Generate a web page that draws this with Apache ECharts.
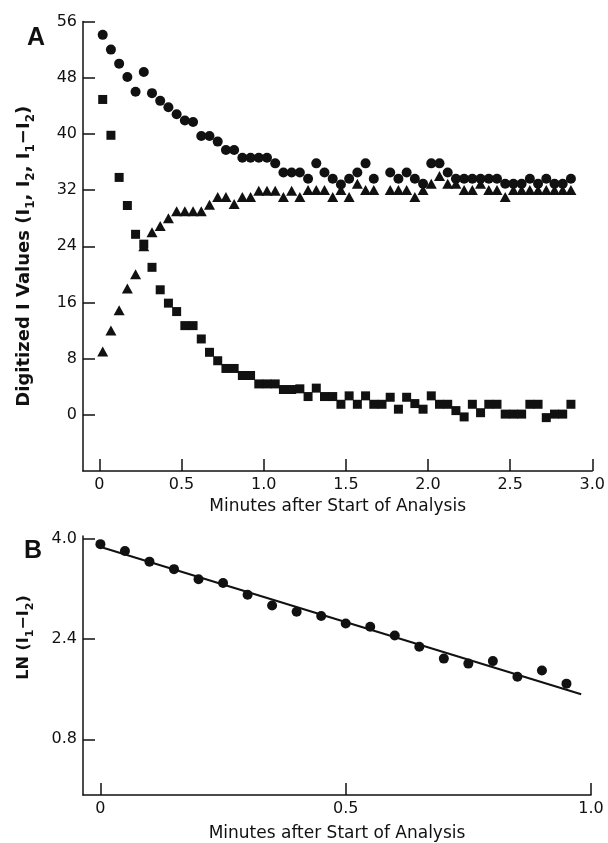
<!DOCTYPE html>
<html><head><meta charset="utf-8">
<script src="https://cdn.jsdelivr.net/npm/echarts@6/dist/echarts.min.js"></script>
<style>html,body{margin:0;padding:0;background:#fff}#c{width:608px;height:843px}</style>
</head><body><div id="c"></div>
<script>
// Panel A: time (minutes) of each digitized reading
const times = [0.02,0.07,0.12,0.17,0.22,0.27,0.32,0.37,0.42,0.47,0.52,0.57,0.62,0.67,0.72,0.77,0.82,0.87,0.92,0.97,
  1.02,1.07,1.12,1.17,1.22,1.27,1.32,1.37,1.42,1.47,1.52,1.57,1.62,1.67,1.72,1.77,1.82,1.87,1.92,1.97,
  2.02,2.07,2.12,2.17,2.22,2.27,2.32,2.37,2.42,2.47,2.52,2.57,2.62,2.67,2.72,2.77,2.82,2.87];
// I1 (circles)
const i1Values = [54.1,52.0,50.0,48.1,46.0,48.8,45.8,44.7,43.8,42.8,41.9,41.7,39.7,39.7,38.9,37.7,37.7,36.6,36.6,36.6,
  36.6,35.8,34.5,34.5,34.5,33.6,35.8,34.5,33.6,32.8,33.6,34.5,35.8,33.6,null,34.5,33.6,34.5,33.6,32.9,
  35.8,35.8,34.5,33.6,33.6,33.6,33.6,33.6,33.6,32.9,32.9,32.9,33.6,32.9,33.6,32.9,32.9,33.6];
// I2 (triangles)
const i2Values = [9.0,12.0,14.9,18.0,20.0,24.0,26.0,26.9,28.0,29.0,29.0,29.0,29.0,29.9,31.0,31.0,30.0,31.0,31.0,31.9,
  31.9,31.9,31.0,31.9,31.0,32.0,32.0,32.0,31.0,32.0,31.0,32.9,32.0,32.0,null,32.0,32.0,32.0,31.0,32.0,
  32.9,34.0,32.9,32.9,32.0,32.0,32.9,32.0,32.0,31.0,32.0,32.0,32.0,32.0,32.0,32.0,32.0,32.0];
// I1 - I2 (squares)
const diffValues = [44.9,39.8,33.8,29.8,25.7,24.3,21.0,17.8,15.9,14.7,12.7,12.7,10.8,8.9,7.7,6.6,6.6,5.6,5.6,4.4,
  4.4,4.4,3.6,3.6,3.7,2.6,3.8,2.6,2.6,1.5,2.7,1.5,2.7,1.5,1.5,2.5,0.8,2.5,1.6,0.8,
  2.7,1.5,1.5,0.6,-0.3,1.5,0.3,1.5,1.5,0.1,0.1,0.1,1.5,1.5,-0.4,0.1,0.1,1.5];
const topXTicks = [0,0.5,1.0,1.5,2.0,2.5,3.0];
const topYTicks = [0,8,16,24,32,40,48,56];

// Panel B
const lnTimes = [0,0.05,0.10,0.15,0.20,0.25,0.30,0.35,0.40,0.45,0.50,0.55,0.60,0.65,0.70,0.75,0.80,0.85,0.90,0.95];
const lnValues = [3.92,3.81,3.64,3.52,3.36,3.30,3.11,2.94,2.84,2.77,2.65,2.60,2.46,2.28,2.09,2.01,2.05,1.80,1.90,1.69];
const fitTimes = [-0.006,0.98];
const fitValues = [3.89,1.52];
const bottomXTicks = [0,0.5,1.0];
const bottomYTicks = [0.8,2.4,4.0];

const FONT = "'DejaVu Sans', 'Liberation Sans', Arial, sans-serif";
const INK = '#111';
function pairs(xs, ys){ const out=[]; xs.forEach((x,i)=>{ if(ys[i]!==null && ys[i]!==undefined) out.push([x,ys[i]]); }); return out; }
const fmt = v => v===0 ? '0' : v.toFixed(1);

const axisLineStyle = {show:true, onZero:false, lineStyle:{color:INK, width:1.5}};
const tickStyle = {show:true, inside:true, length:12, lineStyle:{color:INK, width:1.5}};
const labelStyle = {color:INK, fontFamily:FONT, fontSize:16};
const subRichTop = {
  s:{fontSize:12, fontWeight:'bold', fontFamily:FONT, color:INK, verticalAlign:'bottom', lineHeight:13, padding:[0,0,-4,0]}
};
const subRichB = {
  s:{fontSize:11, fontWeight:'bold', fontFamily:FONT, color:INK, verticalAlign:'bottom', lineHeight:12, padding:[0,0,-4,0]}
};
const mark = {color:INK, opacity:1};

const chart = echarts.init(document.getElementById('c'), null, {renderer:'canvas'});
chart.setOption({
  animation:false,
  backgroundColor:'#fff',
  title:[
    {text:'A', left:27, top:26, padding:0, textStyle:{fontFamily:"'Liberation Sans', Arial, sans-serif", fontSize:25, fontWeight:'bold', color:INK}},
    {text:'B', left:24, top:539, padding:0, textStyle:{fontFamily:"'Liberation Sans', Arial, sans-serif", fontSize:25, fontWeight:'bold', color:INK}}
  ],
  grid:[
    {left:83, right:11, top:21.5, height:449.5},
    {left:83, right:17, top:536, height:260}
  ],
  xAxis:[
    {gridIndex:0, type:'value', min:-0.1, max:3.0, position:'bottom',
     axisLine:axisLineStyle, splitLine:{show:false},
     axisTick:Object.assign({customValues:topXTicks}, tickStyle),
     axisLabel:Object.assign({customValues:topXTicks, formatter:fmt, margin:6}, labelStyle),
     name:'Minutes after Start of Analysis', nameLocation:'middle', nameGap:21,
     nameTextStyle:{fontFamily:FONT, fontSize:17, color:INK, fontWeight:500}},
    {gridIndex:1, type:'value', min:-0.0355, max:1.0, position:'bottom',
     axisLine:axisLineStyle, splitLine:{show:false},
     axisTick:Object.assign({customValues:bottomXTicks}, tickStyle),
     axisLabel:Object.assign({customValues:bottomXTicks, formatter:fmt, margin:6}, labelStyle),
     name:'Minutes after Start of Analysis', nameLocation:'middle', nameGap:30,
     nameTextStyle:{fontFamily:FONT, fontSize:17, color:INK, fontWeight:500}}
  ],
  yAxis:[
    {gridIndex:0, type:'value', min:-8, max:56, position:'left',
     axisLine:axisLineStyle, splitLine:{show:false},
     axisTick:Object.assign({customValues:topYTicks}, tickStyle),
     axisLabel:Object.assign({customValues:topYTicks, margin:6}, labelStyle),
     name:'Digitized I Values (I{s|1}, I{s|2}, I{s|1}−I{s|2})', nameLocation:'middle', nameGap:50, nameRotate:90,
     nameTextStyle:{fontFamily:FONT, fontSize:18, fontWeight:'bold', color:INK, rich:subRichTop, padding:[0,20,0,0]}},
    {gridIndex:1, type:'value', min:-0.09, max:4.05, position:'left',
     axisLine:axisLineStyle, splitLine:{show:false},
     axisTick:Object.assign({customValues:bottomYTicks}, tickStyle),
     axisLabel:Object.assign({customValues:bottomYTicks, formatter:v=>v.toFixed(1), margin:6}, labelStyle),
     name:'LN (I{s|1}−I{s|2})', nameLocation:'middle', nameGap:51, nameRotate:90,
     nameTextStyle:{fontFamily:FONT, fontSize:16, fontWeight:'bold', color:INK, rich:subRichB, padding:[0,0,0,56]}}
  ],
  series:[
    {type:'scatter', xAxisIndex:0, yAxisIndex:0, symbol:'circle', symbolSize:10,
     itemStyle:mark, data:pairs(times, i1Values)},
    {type:'scatter', xAxisIndex:0, yAxisIndex:0, symbol:'triangle', symbolSize:[11,10],
     itemStyle:mark, data:pairs(times, i2Values)},
    {type:'scatter', xAxisIndex:0, yAxisIndex:0, symbol:'rect', symbolSize:9,
     itemStyle:mark, data:pairs(times, diffValues)},
    {type:'line', xAxisIndex:1, yAxisIndex:1, symbol:'none',
     lineStyle:{color:INK, width:2}, data:pairs(fitTimes, fitValues)},
    {type:'scatter', xAxisIndex:1, yAxisIndex:1, symbol:'circle', symbolSize:10,
     itemStyle:mark, data:pairs(lnTimes, lnValues)}
  ]
});
</script></body></html>
